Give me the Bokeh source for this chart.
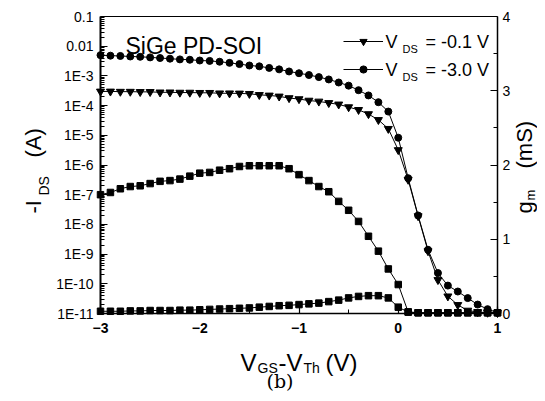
import math
from bokeh.plotting import figure
from bokeh.models import (Range1d, LinearAxis, LinearScale, FixedTicker,
                          CustomJSTickFormatter, Label, Legend, LegendItem)
from bokeh.embed import file_html
from bokeh.resources import INLINE

# ---------------- data ----------------
vgs = [-3.0, -2.9, -2.8, -2.7, -2.6, -2.5, -2.4, -2.3, -2.2, -2.1,
       -2.0, -1.9, -1.8, -1.7, -1.6, -1.5, -1.4, -1.3, -1.2, -1.1,
       -1.0, -0.9, -0.8, -0.7, -0.6, -0.5, -0.4, -0.3, -0.2, -0.1,
       0.0, 0.1, 0.2, 0.3, 0.4, 0.5, 0.6, 0.7, 0.8, 0.9, 1.0]

# -I_DS (A) at V_DS = -0.1 V
ids_01 = [3.0e-4, 3.0e-4, 2.95e-4, 2.95e-4, 2.9e-4, 2.9e-4, 2.8e-4, 2.8e-4, 2.75e-4, 2.75e-4,
          2.7e-4, 2.7e-4, 2.6e-4, 2.6e-4, 2.57e-4, 2.5e-4, 2.3e-4, 2.2e-4, 2.04e-4, 1.8e-4,
          1.66e-4, 1.48e-4, 1.38e-4, 1.23e-4, 1.1e-4, 8.9e-5, 7.2e-5, 5.2e-5, 3.3e-5, 1.66e-5,
          3.2e-6, 3.2e-7, 1.9e-8, 1.26e-9, 1.35e-10, 3.8e-11, 1.95e-11, 1.26e-11, 1.12e-11, 1.07e-11, 1.05e-11]

# -I_DS (A) at V_DS = -3.0 V
ids_30 = [5.0e-3, 4.8e-3, 4.7e-3, 4.5e-3, 4.4e-3, 4.2e-3, 4.0e-3, 3.8e-3, 3.6e-3, 3.5e-3,
          3.3e-3, 3.2e-3, 3.0e-3, 2.75e-3, 2.5e-3, 2.24e-3, 2.1e-3, 1.86e-3, 1.66e-3, 1.41e-3,
          1.23e-3, 1.07e-3, 9.1e-4, 7.6e-4, 6.0e-4, 4.7e-4, 3.3e-4, 2.2e-4, 1.3e-4, 6.3e-5,
          8.3e-6, 3.6e-7, 2.0e-8, 1.4e-9, 2.3e-10, 8.7e-11, 5.5e-11, 3.3e-11, 2.0e-11, 1.4e-11, 1.07e-11]

# g_m (mS), V_DS = -3.0 V
gm_30 = [1.60, 1.63, 1.68, 1.71, 1.72, 1.75, 1.78, 1.79, 1.81, 1.85,
         1.89, 1.90, 1.93, 1.95, 1.98, 1.99, 1.99, 1.99, 1.99, 1.95,
         1.87, 1.79, 1.71, 1.64, 1.51, 1.39, 1.24, 1.04, 0.84, 0.60,
         0.39, 0.02, 0.01, 0.01, 0.01, 0.01, 0.01, 0.01, 0.01, 0.01, 0.01]

# g_m (mS), V_DS = -0.1 V
gm_01 = [0.03, 0.03, 0.03, 0.035, 0.035, 0.04, 0.04, 0.04, 0.045, 0.045,
         0.05, 0.055, 0.06, 0.065, 0.07, 0.075, 0.085, 0.095, 0.105, 0.11,
         0.12, 0.13, 0.14, 0.16, 0.18, 0.21, 0.23, 0.24, 0.24, 0.21,
         0.085, 0.02, 0.01, 0.01, 0.01, 0.01, 0.01, 0.01, 0.01, 0.01, 0.01]

x_lim = (-3, 1)
y_lim = (1e-11, 0.1)
gm_lim = (0, 4)
x_ticks = [-3, -2, -1, 0, 1]
x_minor = [-2.5, -1.5, -0.5, 0.5]
gm_ticks = [0, 1, 2, 3, 4]
gm_minor = [0.5, 1.5, 2.5, 3.5]
log_decades = list(range(-11, 0))

FONT = "Liberation Sans"

# ---------------- layout geometry (pixels) ----------------
W, H = 537, 393
PX_L, PX_R, PX_T, PX_B = 100, 497, 16, 313   # plot box inside the canvas

sx = (x_lim[1] - x_lim[0]) / (PX_R - PX_L)
dec = (math.log10(y_lim[1]) - math.log10(y_lim[0])) / (PX_B - PX_T)
sg = (gm_lim[1] - gm_lim[0]) / (PX_B - PX_T)

x_range = Range1d(x_lim[0] - PX_L * sx, x_lim[1] + (W - PX_R) * sx)
y_range = Range1d(10 ** (math.log10(y_lim[0]) - (H - PX_B) * dec),
                  10 ** (math.log10(y_lim[1]) + PX_T * dec))
gm_range = Range1d(gm_lim[0] - (H - PX_B) * sg, gm_lim[1] + PX_T * sg)

p = figure(width=W, height=H, output_backend="svg", toolbar_location=None,
           x_range=x_range, y_range=y_range, y_axis_type="log",
           min_border_left=0, min_border_right=0, min_border_top=0, min_border_bottom=0)
p.title.visible = False
p.extra_y_ranges = {"gm": gm_range}
p.extra_y_scales = {"gm": LinearScale()}
p.add_layout(LinearAxis(y_range_name="gm"), "right")
p.add_layout(LinearAxis(), "above")

p.xgrid.visible = False
p.ygrid.visible = False
p.outline_line_color = None
p.background_fill_color = "white"
p.border_fill_color = "white"


def style_axis(ax, fsize, bold, standoff, lw=1.5):
    ax.axis_line_color = "black"
    ax.axis_line_width = lw
    ax.major_tick_in = 7
    ax.major_tick_out = 0
    ax.minor_tick_in = 4
    ax.minor_tick_out = 0
    ax.major_tick_line_color = "black"
    ax.minor_tick_line_color = "black"
    ax.major_tick_line_width = 1.2
    ax.minor_tick_line_width = 1
    ax.major_label_text_font = FONT
    ax.major_label_text_font_size = fsize
    ax.major_label_text_font_style = "bold" if bold else "normal"
    ax.major_label_text_color = "black"
    ax.major_label_standoff = standoff


xa = p.below[0]
xa.ticker = FixedTicker(ticks=x_ticks, minor_ticks=x_minor)
xa.fixed_location = y_lim[0]
xa.bounds = x_lim
style_axis(xa, "14px", True, 9)

ya = p.left[0]
ya.ticker = FixedTicker(ticks=[10.0 ** k for k in log_decades],
                        minor_ticks=[m * 10.0 ** k for k in log_decades[:-1] for m in range(2, 10)])
ya.formatter = CustomJSTickFormatter(code="""
const e = Math.round(Math.log10(tick));
if (e == -1) return "0.1";
if (e == -2) return "0.01";
return "1E" + e;
""")
ya.fixed_location = x_lim[0]
ya.bounds = y_lim
style_axis(ya, "14px", False, 7, lw=2)

ra = p.right[0]
ra.ticker = FixedTicker(ticks=gm_ticks, minor_ticks=gm_minor)
ra.fixed_location = x_lim[1]
ra.bounds = gm_lim
style_axis(ra, "14px", False, 5)

ta = p.above[0]
ta.ticker = FixedTicker(ticks=[], minor_ticks=[])
ta.fixed_location = y_lim[1]
ta.bounds = x_lim
ta.axis_line_color = "black"
ta.axis_line_width = 1
ta.major_label_text_alpha = 0

# ---------------- glyphs ----------------
l1 = p.line(vgs, ids_01, line_color="black", line_width=1)
s1 = p.scatter(vgs, ids_01, marker="inverted_triangle", size=8, color="black")
l2 = p.line(vgs, ids_30, line_color="black", line_width=1)
s2 = p.scatter(vgs, ids_30, marker="circle", size=7, color="black")

p.line(vgs, gm_30, line_color="black", line_width=1, y_range_name="gm")
p.scatter(vgs, gm_30, marker="square", size=6.5, color="black", y_range_name="gm")
p.line(vgs, gm_01, line_color="black", line_width=1, y_range_name="gm")
p.scatter(vgs, gm_01, marker="square", size=6.5, color="black", y_range_name="gm")

legend = Legend(items=[LegendItem(label=" ", renderers=[l1, s1]),
                       LegendItem(label=" ", renderers=[l2, s2])],
                location=(343, H - 78), orientation="vertical",
                glyph_width=40, glyph_height=18, label_height=18, label_width=1,
                label_standoff=0, padding=0, margin=0, spacing=10,
                background_fill_alpha=0, border_line_alpha=0,
                label_text_font_size="8px")
p.add_layout(legend)


def lab(text, px, py, size, angle=0.0, font=FONT, style="normal"):
    # px, py: canvas pixel position (from top-left) of the text anchor (baseline start)
    p.add_layout(Label(text=text, x=px, y=H - py, x_units="screen", y_units="screen",
                       angle=angle, text_font=font, text_font_size=size,
                       text_font_style=style, text_color="black",
                       text_align="left", text_baseline="alphabetic"))


# title inside plot
lab("SiGe PD-SOI", 125, 45, "23px")

# legend texts
lab("V", 385, 41, "18px")
lab("DS", 402, 48, "11px")
lab("= -0.1 V", 425, 41, "18px")
lab("V", 385, 69, "18px")
lab("DS", 402, 76, "11px")
lab("= -3.0 V", 425, 69, "18px")

# bottom axis label: V_GS - V_Th (V)
lab("V", 240, 362, "24px")
lab("GS", 257, 367, "14px")
lab("-V", 278, 362, "24px")
lab("Th", 303, 367, "14px")
lab("(V)", 325, 362, "24px")
lab("(b)", 266, 380, "19px", font="DejaVu Serif")

# left axis label: -I_DS (A)
R = math.pi / 2
lab("-I", 33, 213, "22px", angle=R)
lab("DS", 43, 195, "14px", angle=R)
lab("(A)", 33, 157, "22px", angle=R)

# right axis label: g_m (mS)
lab("g", 524, 213, "22px", angle=R)
lab("m", 530, 200, "13px", angle=R)
lab("(mS)", 524, 168, "22px", angle=R)

open("out.html", "w").write(file_html(p, INLINE))
